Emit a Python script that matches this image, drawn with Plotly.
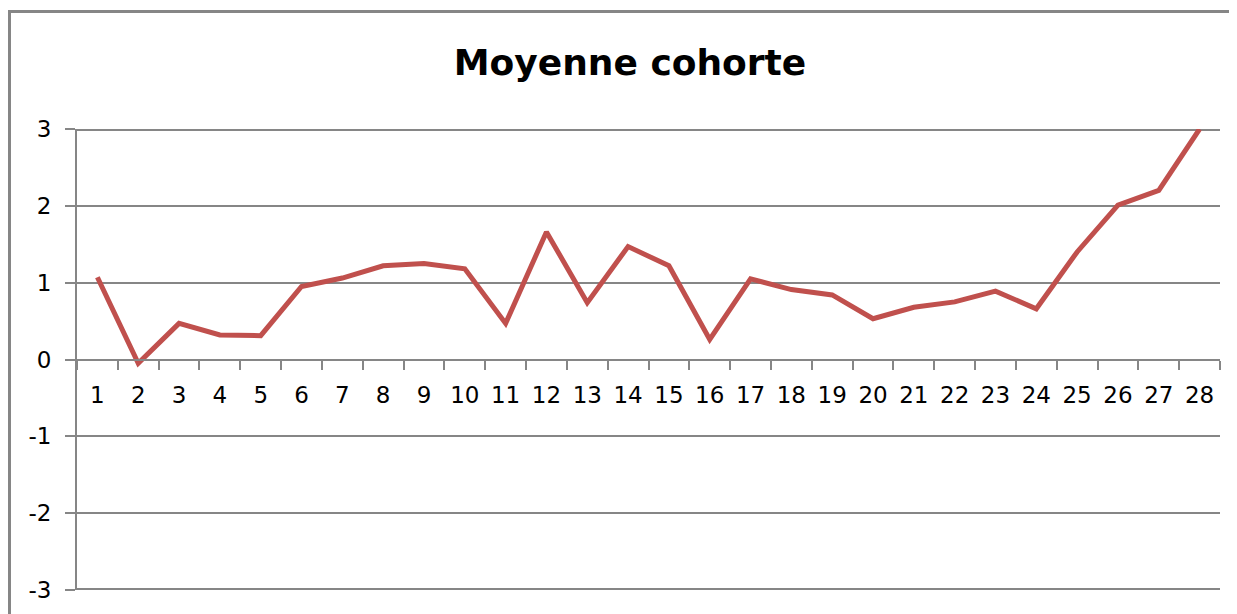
import plotly.graph_objects as go

# Data
categories = [str(i) for i in range(1, 29)]
values = [1.07, -0.05, 0.47, 0.32, 0.31, 0.95, 1.06, 1.22, 1.25, 1.18,
          0.47, 1.66, 0.74, 1.47, 1.22, 0.26, 1.05, 0.91, 0.84, 0.53,
          0.68, 0.75, 0.89, 0.66, 1.40, 2.01, 2.20, 3.00]
y_tick_vals = [-3, -2, -1, 0, 1, 2, 3]
y_tick_text = ["-3", "-2", "-1", "0", "1", "2", "3"]
title_text = "Moyenne cohorte"

# Page offset of the figure (default body margin)
OFF = 8
# Target page geometry (pixels)
PAGE_W, PAGE_H = 1237, 614
PLOT_L, PLOT_R, PLOT_T, PLOT_B = 77, 1220, 129, 590

FW, FH = PAGE_W - OFF, PAGE_H - OFF
L = PLOT_L - OFF
R = FW - (PLOT_R - OFF)
T = PLOT_T - OFF
B = FH - (PLOT_B - OFF)
PW, PH = FW - L - R, FH - T - B

def px_x(p):  # page x -> paper
    return (p - OFF - L) / PW

def px_y(p):  # page y -> paper
    return (FH - B - (p - OFF)) / PH

GRID = "#868686"
FONT = "DejaVu Sans"

fig = go.Figure()
fig.add_trace(go.Scatter(
    x=categories, y=values, mode="lines",
    line=dict(color="#C0504D", width=5),
    hoverinfo="x+y", showlegend=False,
))

# edge gridlines (plotly hides gridlines at the range ends; half is clipped)
edge_lines = [dict(type="line", xref="paper", yref="y", x0=0, x1=1, y0=v, y1=v,
                   line=dict(color=GRID, width=4), layer="below")
              for v in (y_tick_vals[0], y_tick_vals[-1])]

frame = dict(type="rect", xref="paper", yref="paper",
             x0=px_x(9.5), x1=px_x(1260), y0=px_y(640), y1=px_y(11.5),
             line=dict(color=GRID, width=3), fillcolor="rgba(0,0,0,0)",
             layer="above")

fig.update_layout(
    width=FW, height=FH,
    margin=dict(l=L, r=R, t=T, b=B, pad=0),
    paper_bgcolor="white", plot_bgcolor="white",
    title=dict(text="<b>" + title_text + "</b>", x=px_x(630), xref="paper",
               y=1 - (62 - OFF) / FH, yref="container", yanchor="middle", xanchor="center",
               font=dict(family=FONT, size=36, color="black")),
    xaxis=dict(
        type="category", categoryorder="array", categoryarray=categories,
        range=[-0.5, 27.5],
        anchor="free", position=0.5,
        showline=True, linecolor=GRID, linewidth=2,
        showgrid=False, zeroline=False,
        ticks="outside", tickson="boundaries", ticklen=9, tickwidth=2, tickcolor=GRID,
        tickfont=dict(family=FONT, size=23, color="black"),
        ticklabelstandoff=15,
    ),
    yaxis=dict(
        range=[-3, 3], tickvals=y_tick_vals, ticktext=y_tick_text,
        showline=True, linecolor=GRID, linewidth=2,
        showgrid=True, gridcolor=GRID, gridwidth=2, zeroline=False,
        ticks="outside", ticklen=10, tickwidth=2, tickcolor=GRID,
        tickfont=dict(family=FONT, size=23, color="black"),
        ticklabelstandoff=9,
    ),
    shapes=edge_lines + [frame],
)

fig.write_html("out.html")
